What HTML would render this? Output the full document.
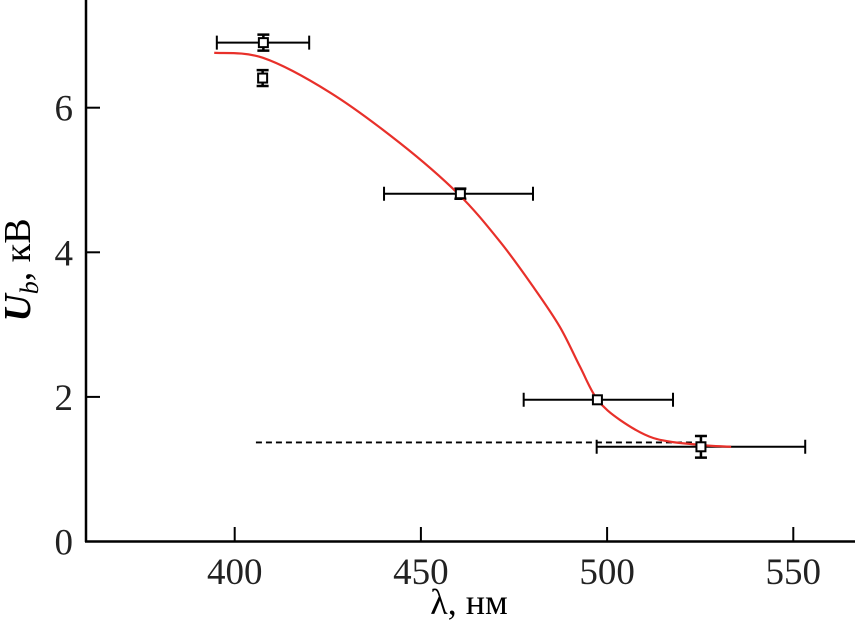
<!DOCTYPE html>
<html><head><meta charset="utf-8"><style>
html,body{margin:0;padding:0;background:#fff;}
svg{display:block;font-family:"Liberation Serif",serif;}
</style></head><body>
<svg id="chart" width="855" height="627" viewBox="0 0 855 627">
<g id="axes"></g>
<g id="marks"></g>
<text x="30" y="270" font-size="38" text-anchor="middle" transform="rotate(-90 30 270)"><tspan font-style="italic" font-weight="bold">U</tspan><tspan font-style="italic" font-size="26" dy="8">b</tspan><tspan dy="-8">, кВ</tspan></text>
<text x="469" y="614" font-size="36" text-anchor="middle">λ, нм</text>
</svg>
<script>
const xTicks=[400,450,500,550];
const yTicks=[0,2,4,6];
const ptX=[407.7,407.5,460.6,497.4,525.2];
const ptY=[6.90,6.41,4.81,1.96,1.31];
const xErrLo=[395.2,null,440.1,477.6,497.2];
const xErrHi=[420.0,null,480.1,517.7,553.2];
const yErr=[0.11,0.11,0.07,0,0.15];
const fitX=[394.5,407.6,425.6,444.4,460,471.2,480.2,487.3,492.7,497.3,503.5,512.5,524,533.3];
const fitY=[6.76,6.69,6.21,5.51,4.81,4.15,3.52,2.97,2.42,1.97,1.68,1.43,1.34,1.31];
const dashX=[405.7,524];
const dashY=[1.37,1.37];

const NS="http://www.w3.org/2000/svg";
const sx=v=>234.7+(v-400)*3.724;
const sy=v=>541.5-v*72.3;
function mk(tag,attrs,parent){const e=document.createElementNS(NS,tag);for(const k in attrs)e.setAttribute(k,attrs[k]);parent.appendChild(e);return e;}
const ax=document.getElementById('axes'),mg=document.getElementById('marks');
let e=mk('line',{x1:86,y1:0,x2:86,y2:542,stroke:'#000','stroke-width':2.5},ax);


e=mk('line',{x1:85,y1:541.5,x2:855,y2:541.5,stroke:'#000','stroke-width':2.5},ax);


xTicks.forEach(t=>{
 const l=mk('line',{x1:sx(t),y1:527,x2:sx(t),y2:541,stroke:'#000','stroke-width':2},ax);
 
 
 const tx=mk('text',{x:sx(t),y:584,'font-size':37,'text-anchor':'middle',fill:'#222'},ax);tx.textContent=t;
 
 
});
yTicks.forEach(t=>{
 const l=mk('line',{x1:86,y1:sy(t),x2:100,y2:sy(t),stroke:'#000','stroke-width':2},ax);
 
 
 const tx=mk('text',{x:73,y:sy(t)+13,'font-size':37,'text-anchor':'end',fill:'#222'},ax);tx.textContent=t;
 
 
});
e=mk('line',{x1:sx(dashX[0]),y1:sy(dashY[0]),x2:sx(dashX[1]),y2:sy(dashY[1]),stroke:'#000','stroke-width':1.8,'stroke-dasharray':'6,4'},mg);


ptX.forEach((x,i)=>{
 const cx=sx(x),cy=sy(ptY[i]);
 if(xErrLo[i]!==null){
  const a=sx(xErrLo[i]),b=sx(xErrHi[i]);
  e=mk('path',{d:`M${a},${cy}H${b}M${a},${cy-7}V${cy+7}M${b},${cy-7}V${cy+7}`,stroke:'#000','stroke-width':2,fill:'none'},mg);
  
  
 }
 if(yErr[i]>0){
  const a=sy(ptY[i]+yErr[i]),b=sy(ptY[i]-yErr[i]);
  e=mk('path',{d:`M${cx},${a}V${b}M${cx-6},${a}H${cx+6}M${cx-6},${b}H${cx+6}`,stroke:'#000','stroke-width':2.5,fill:'none'},mg);
  
  
 }
});
let pts=fitX.map((x,i)=>[sx(x),sy(fitY[i])]);
let d=`M${pts[0][0]},${pts[0][1]}`;
for(let i=0;i<pts.length-1;i++){
 const p0=pts[Math.max(0,i-1)],p1=pts[i],p2=pts[i+1],p3=pts[Math.min(pts.length-1,i+2)];
 const c1=[p1[0]+(p2[0]-p0[0])/6,p1[1]+(p2[1]-p0[1])/6],c2=[p2[0]-(p3[0]-p1[0])/6,p2[1]-(p3[1]-p1[1])/6];
 d+=`C${c1[0]},${c1[1]} ${c2[0]},${c2[1]} ${p2[0]},${p2[1]}`;
}
e=mk('path',{d:d,stroke:'#e8302a','stroke-width':2.2,fill:'none'},mg);


ptX.forEach((x,i)=>{
 const r=mk('rect',{x:sx(x)-4.5,y:sy(ptY[i])-4.5,width:9,height:9,fill:'#fff',stroke:'#000','stroke-width':2},mg);
 
 
});
</script>
</body></html>
